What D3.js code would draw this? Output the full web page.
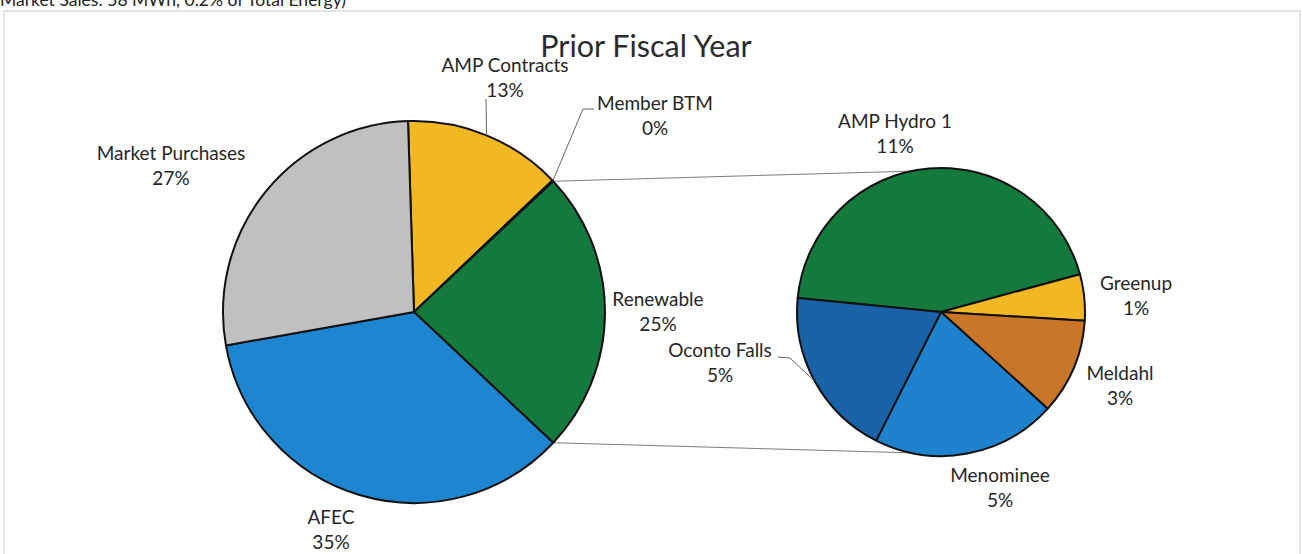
<!DOCTYPE html>
<html>
<head>
<meta charset="utf-8">
<script src="https://cdn.jsdelivr.net/npm/d3@7"></script>
<style>
  html, body { margin: 0; padding: 0; background: #fff; }
  svg { display: block; font-family: Lato, "Open Sans", sans-serif; }
  .lbl { fill: #262626; font-size: 19px; }
</style>
</head>
<body>
<div id="chart"></div>
<script>
// main pie (share of total energy)
const mainNames = ['AMP Contracts', 'Member BTM', 'Renewable', 'AFEC', 'Market Purchases'];
const mainValues = [13.4, 0.1, 24.0, 35.2, 27.3];
const mainLabels = ['13%', '0%', '25%', '35%', '27%'];
const mainColors = ['#f2b824', '#2a2a2a', '#13793d', '#1e86d0', '#c0c0c0'];

// second pie: split of the renewable slice
const subNames = ['AMP Hydro 1', 'Greenup', 'Meldahl', 'Menominee', 'Oconto Falls'];
const subValues = [11.1, 1.3, 2.7, 5.2, 4.8];
const subLabels = ['11%', '1%', '3%', '5%', '5%'];
const subColors = ['#13793d', '#f2b824', '#c97628', '#1e82cf', '#1a62a8'];

const title = 'Prior Fiscal Year';
const topNote = 'Market Sales: 58 MWh, 0.2% of Total Energy)';

const width = 1302, height = 554;
const rad = Math.PI / 180;

// label placement (centre x, first baseline)
const labelPos = {
  'AMP Contracts': [505, 72], 'Member BTM': [655, 110], 'Renewable': [658, 306],
  'AFEC': [331, 524], 'Market Purchases': [171, 160],
  'AMP Hydro 1': [895, 128], 'Greenup': [1136, 290], 'Meldahl': [1120, 380],
  'Menominee': [1000, 482], 'Oconto Falls': [720, 357]
};

const svg = d3.select('#chart').append('svg')
  .attr('width', width)
  .attr('height', height);

// scanned page border + clipped line of text above the chart
svg.append('rect')
  .attr('x', 4).attr('y', 11).attr('width', 1296).attr('height', 560)
  .attr('fill', 'none').attr('stroke', '#dcdcdc').attr('stroke-width', 1.5);
svg.append('text')
  .attr('x', 0).attr('y', 6)
  .attr('fill', '#222').style('font-size', '17.5px')
  .text(topNote);

svg.append('text')
  .attr('x', 646).attr('y', 57)
  .attr('text-anchor', 'middle')
  .attr('fill', '#2b2b2b').style('font-size', '30.5px')
  .text(title);

const main = { cx: 414, cy: 312, r: 191 };
const sub = { cx: 941, cy: 312, r: 144 };

// excel-style: the "other" slice sits centred on 3 o'clock
const total = d3.sum(mainValues);
const before = d3.sum(mainValues.slice(0, 2)) + mainValues[2] / 2;
const mainStart = (90 - before / total * 360) * rad;

const mainPie = d3.pie().sort(null).value(d => d)
  .startAngle(mainStart).endAngle(mainStart + 2 * Math.PI);
const subStart = -84.4 * rad;
const subPie = d3.pie().sort(null).value(d => d)
  .startAngle(subStart).endAngle(subStart + 2 * Math.PI);

const mainArcs = mainPie(mainValues);
const subArcs = subPie(subValues);

const pt = (c, a, r) => [c.cx + r * Math.sin(a), c.cy - r * Math.cos(a)];

// connector lines between the two pies
const ren = mainArcs[2];
const conn = [
  [pt(main, ren.startAngle, main.r), pt(sub, -12 * rad, sub.r)],
  [pt(main, ren.endAngle, main.r), pt(sub, 192 * rad, sub.r)]
];
svg.append('g').selectAll('line').data(conn).join('line')
  .attr('x1', d => d[0][0]).attr('y1', d => d[0][1])
  .attr('x2', d => d[1][0]).attr('y2', d => d[1][1])
  .attr('stroke', '#7f7f7f').attr('stroke-width', 1);

function drawPie(c, arcs, colors) {
  const arc = d3.arc().innerRadius(0).outerRadius(c.r);
  svg.append('g')
    .attr('transform', `translate(${c.cx},${c.cy})`)
    .selectAll('path').data(arcs).join('path')
    .attr('d', arc)
    .attr('fill', (d, i) => colors[i])
    .attr('stroke', '#111')
    .attr('stroke-width', 2)
    .attr('stroke-linejoin', 'round');
}
drawPie(main, mainArcs, mainColors);
drawPie(sub, subArcs, subColors);

// leader lines
const mid = d => (d.startAngle + d.endAngle) / 2;
const leaders = [
  [pt(main, mid(mainArcs[0]), main.r), [486, 99]],
  [pt(main, mid(mainArcs[1]), main.r), [583, 109], [594, 109]],
  [pt(sub, mid(subArcs[4]), sub.r), [790, 358], [778, 357]]
];
svg.append('g').selectAll('path').data(leaders).join('path')
  .attr('d', d => d3.line()(d))
  .attr('fill', 'none')
  .attr('stroke', '#666')
  .attr('stroke-width', 1);

function drawLabels(names, labels) {
  names.forEach((n, i) => {
    const [x, y] = labelPos[n];
    const t = svg.append('text').attr('class', 'lbl').attr('text-anchor', 'middle');
    t.append('tspan').attr('x', x).attr('y', y).text(n);
    t.append('tspan').attr('x', x).attr('y', y + 25).text(labels[i]);
  });
}
drawLabels(mainNames, mainLabels);
drawLabels(subNames, subLabels);
</script>
</body>
</html>
